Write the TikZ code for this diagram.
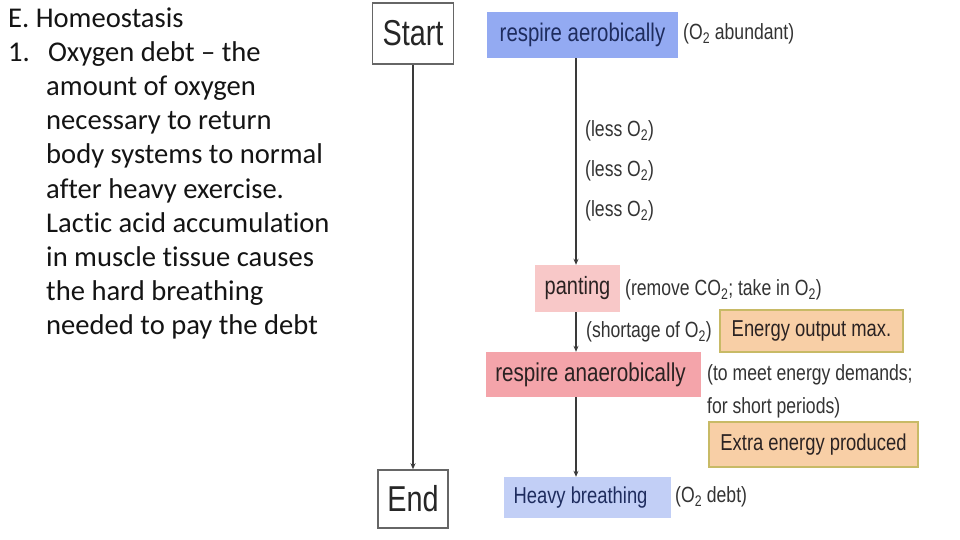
\documentclass[tikz,border=0pt]{standalone}
\usepackage{fontspec}
\usepackage{graphicx}
\setmainfont{Carlito}[Ligatures={NoCommon}]
\newfontfamily\arialf{Liberation Sans}
\usetikzlibrary{arrows.meta}
\definecolor{aerblue}{HTML}{93AAF2}
\definecolor{heavyblue}{HTML}{C2CFF6}
\definecolor{pantpink}{HTML}{F8C8C8}
\definecolor{anpink}{HTML}{F4A4AA}
\definecolor{peach}{HTML}{F8CFA6}
\definecolor{olive}{HTML}{C8BA66}
\definecolor{navy}{HTML}{1E2C5E}
\definecolor{darktext}{HTML}{2A2222}
\definecolor{labeltext}{HTML}{333333}
\definecolor{linegray}{HTML}{3A3A3A}
\newcommand{\nar}[1]{\scalebox{0.8}[1]{#1}}
\newcommand{\Otwo}{O\textsubscript{2}}
\newcommand{\fs}[1]{\fontsize{#1}{#1}\selectfont}
\begin{document}
\begin{tikzpicture}[x=1pt,y=-1pt,
  lefttext/.style={anchor=base west, inner sep=0, font=\fs{28.6}, text=black!92},
  plainbox/.style={draw=black!60, line width=1.5pt, fill=white, inner sep=0, font=\arialf\fs{36}, text=black!85},
  colbox/.style={inner sep=0, font=\arialf},
  peachbox/.style={colbox, fill=peach, draw=olive, line width=2pt, text=darktext, font=\arialf\fs{23}},
  lbl/.style={anchor=west, inner sep=0, font=\arialf\fs{22}, text=labeltext},
  arr/.style={draw=linegray, line width=1.4pt, -{Stealth[length=6pt,width=5pt]}}
]
\useasboundingbox[fill=white] (0,0) rectangle (960,540);

% left text
\node[lefttext] (t0) at (8,28) {E. Homeostasis};
\node[lefttext] (n1) at (8,62) {1.};
\node[lefttext] (t1) at (48,62) {Oxygen debt – the};
\node[lefttext] (t2) at (46,96) {amount of oxygen};
\node[lefttext] (t3) at (46,130) {necessary to return};
\node[lefttext] (t4) at (46,164) {body systems to normal};
\node[lefttext] (t5) at (46,198) {after heavy exercise.};
\node[lefttext] (t6) at (46,232) {Lactic acid accumulation};
\node[lefttext] (t7) at (46,266) {in muscle tissue causes};
\node[lefttext] (t8) at (46,300) {the hard breathing};
\node[lefttext] (t9) at (46,334) {needed to pay the debt};

% start / end
\node[plainbox, minimum width=81, minimum height=61] (start) at (413,33.5) {\nar{Start}};
\node[plainbox, minimum width=70, minimum height=58] (end) at (413,499) {\nar{End}};
\draw[arr] (start.south) -- (end.north);

% flow boxes
\coordinate (spine) at (576,0);
\node[colbox, fill=aerblue, text=navy, font=\arialf\fs{25.5}, minimum width=191, minimum height=46] (aer) at (582.5,35) {\nar{respire aerobically}};
\node[colbox, fill=pantpink, text=darktext, font=\arialf\fs{25}, minimum width=85, minimum height=47] (pant) at (577.5,288.5) {\nar{panting}};
\node[colbox, fill=anpink, text=darktext, font=\arialf\fs{25.8}, minimum width=215, minimum height=45] (anaer) at (593.5,374.5) {\nar{respire anaerobically}\hspace*{6pt}};
\node[colbox, fill=heavyblue, text=navy, font=\arialf\fs{23}, minimum width=167, minimum height=41] (heavy) at (587.5,497.5) {\nar{Heavy breathing}\hspace*{14pt}};
\node[peachbox, minimum width=183, minimum height=42] (energy) at (811.5,331) {\nar{Energy output max.}};
\node[peachbox, minimum width=209, minimum height=45] (extra) at (813.5,444.5) {\nar{Extra energy produced}};

\draw[arr] (aer.south -| spine) -- (pant.north -| spine);
\draw[arr] (pant.south -| spine) -- (anaer.north -| spine);
\draw[arr] (anaer.south -| spine) -- (heavy.north -| spine);

% labels
\node[lbl] (l0) at (683,34) {\nar{(\Otwo\ abundant)}};
\node[lbl] (l1) at (585,131) {\nar{(less \Otwo)}};
\node[lbl] (l2) at (585,171) {\nar{(less \Otwo)}};
\node[lbl] (l3) at (585,211) {\nar{(less \Otwo)}};
\node[lbl] (l4) at (625,290) {\nar{(remove CO\textsubscript{2}; take in \Otwo)}};
\node[lbl] (l5) at (586,332) {\nar{(shortage of \Otwo)}};
\node[lbl] (l6) at (707,375) {\nar{(to meet energy demands;}};
\node[lbl] (l7) at (707,408) {\nar{for short periods)}};
\node[lbl] (l8) at (675,497) {\nar{(\Otwo\ debt)}};
\end{tikzpicture}
\end{document}
